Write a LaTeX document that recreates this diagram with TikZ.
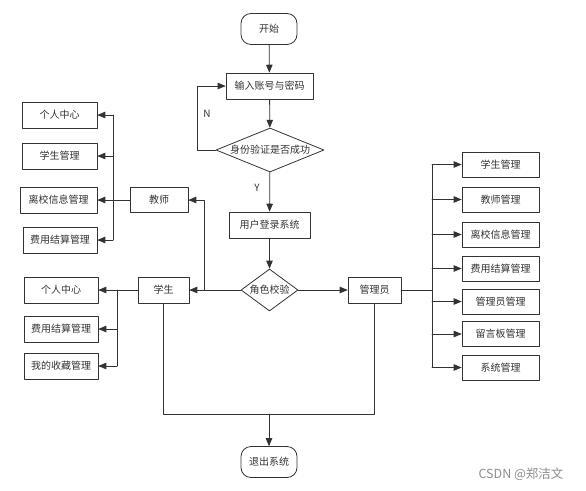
\documentclass[tikz,border=0pt]{standalone}
\usepackage{fontspec}
\setmainfont{Noto Sans CJK SC}
\usepackage{pgf,tikz}
\usetikzlibrary{arrows}
\usetikzlibrary{shapes.geometric}

\tikzset{
  box/.style={draw=black!80,line width=0.8pt,rectangle,inner sep=0pt,minimum height=26pt,font=\fontsize{10}{12}\selectfont,text=black!80},
  term/.style={box,rounded corners=10pt,minimum height=31pt},
  dec/.style={draw=black!80,line width=0.8pt,diamond,inner sep=0pt,aspect=2},
  lbl/.style={font=\fontsize{10}{12}\selectfont,text=black!80}
}

\begin{document}
\begin{tikzpicture}[line cap=round,line join=round,>=triangle 45,x=1pt,y=-1pt]
\useasboundingbox (0,0) rectangle (586,490);
\tikzstyle{every path}=[draw=black!80,line width=0.8pt]
% main flow
\node[term,minimum width=56pt] (start) at (269,29) {开始};
\node[box,minimum width=87pt] (in) at (269.5,86) {输入账号与密码};
\node[dec,minimum width=108pt,minimum height=44pt,label={[lbl]center:身份验证是否成功}] (chk) at (270,150) {};
\node[box,minimum width=81pt] (login) at (269.5,225) {用户登录系统};
\node[dec,minimum width=57pt,minimum height=42pt,label={[lbl]center:角色校验}] (role) at (269.5,290) {};
\node[term,minimum width=56pt] (quit) at (269,462) {退出系统};
\node[lbl] (nlab) at (207,114) {N};
\node[lbl] (ylab) at (257,188) {Y};
% roles
\node[box,minimum width=58pt,minimum height=25pt] (tea) at (159,200) {教师};
\node[box,minimum width=51pt] (stu) at (163.5,290) {学生};
\node[box,minimum width=53pt] (adm) at (374.5,290) {管理员};
% teacher items
\node[box,minimum width=75pt] (t1) at (59.5,115) {个人中心};
\node[box,minimum width=75pt] (t2) at (59.5,156) {学生管理};
\node[box,minimum width=77pt] (t3) at (58.5,200) {离校信息管理};
\node[box,minimum width=74pt] (t4) at (60,240) {费用结算管理};
% student items
\node[box,minimum width=74pt] (s1) at (61,290) {个人中心};
\node[box,minimum width=74pt] (s2) at (61,329) {费用结算管理};
\node[box,minimum width=74pt] (s3) at (61,366) {我的收藏管理};
% admin items
\node[box,minimum width=77pt,minimum height=25pt] (a1) at (500.5,164.5) {学生管理};
\node[box,minimum width=77pt,minimum height=25pt] (a2) at (500.5,199.5) {教师管理};
\node[box,minimum width=77pt,minimum height=25pt] (a3) at (500.5,234.5) {离校信息管理};
\node[box,minimum width=77pt,minimum height=25pt] (a4) at (500.5,268.5) {费用结算管理};
\node[box,minimum width=77pt,minimum height=25pt] (a5) at (500.5,301.5) {管理员管理};
\node[box,minimum width=77pt,minimum height=25pt] (a6) at (500.5,334) {留言板管理};
\node[box,minimum width=77pt,minimum height=25pt] (a7) at (500.5,367.5) {系统管理};
\node[font=\fontsize{12.5}{14}\selectfont,text=black!45] (mark) at (521,474) {CSDN @郑洁文};
% junctions
\coordinate (tj) at (204,290);
\coordinate (tbus) at (113,200);
\coordinate (sbus) at (117,290);
\coordinate (abus) at (432,290);
\coordinate (ej) at (269,414);
% connectors
\draw[->] (start) -- (in);
\draw[->] (in) -- (chk);
\draw[->] (chk.west) -- ++(-18,0) |- (in.west);
\draw[->] (chk) -- (login);
\draw[->] (login) -- (role);
\draw[->] (role) -- (stu);
\draw[->] (role) -- (adm);
\draw[->] (tj) |- (tea.east);
\draw (tea) -- (tbus);
\draw (tbus |- t1) -- (tbus |- t4);
\foreach \n in {t1,t2,t3,t4}
\draw[->] (tbus |- \n) -- (\n);
\draw (stu) -- (sbus);
\draw (sbus |- s1) -- (sbus |- s3);
\foreach \n in {s1,s2,s3}
\draw[->] (sbus |- \n) -- (\n);
\draw (adm) -- (abus);
\draw (abus |- a1) -- (abus |- a7);
\foreach \n in {a1,a2,a3,a4,a5,a6,a7}
\draw[->] (abus |- \n) -- (\n);
\draw (stu.south) -- (stu.south |- ej) -- (adm.south |- ej) -- (adm.south);
\draw[->] (ej) -- (quit);
\end{tikzpicture}
\end{document}
